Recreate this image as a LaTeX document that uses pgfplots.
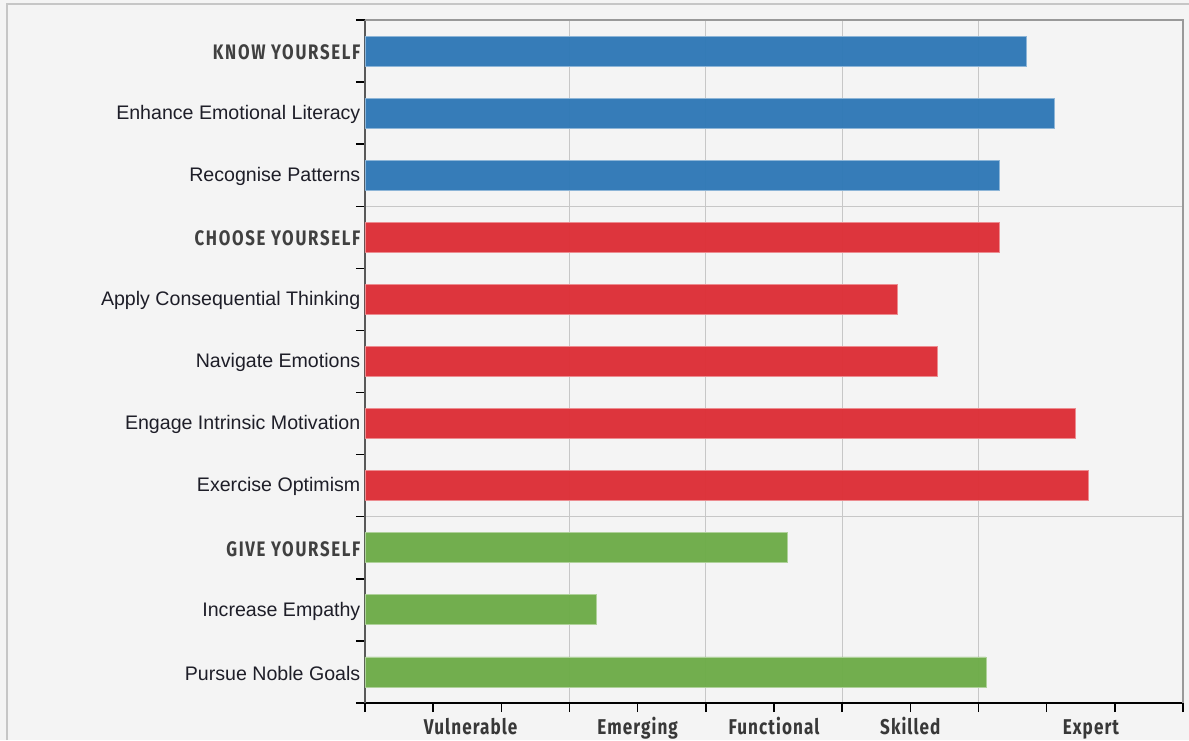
\documentclass[border=0pt]{standalone}
\usepackage{pgfplots}
\pgfplotsset{compat=1.18}
\usepackage{fontspec}
\setmainfont{Liberation Sans}
\newfontfamily\condfont[FakeStretch=0.8,LetterSpace=8]{Fira Sans}
\newfontfamily\condfontx[FakeStretch=0.8,LetterSpace=5]{Fira Sans}
\definecolor{bgc}{HTML}{F4F4F4}
\definecolor{blueC}{HTML}{2F78B6}
\definecolor{redC}{HTML}{DD2E36}
\definecolor{greenC}{HTML}{6DAC48}
\definecolor{txt}{HTML}{1E1E28}
\newcommand{\hd}[1]{{\condfont\bfseries\fontsize{10.5}{12}\selectfont\color{black!75}#1}}
\begin{document}
\begin{tikzpicture}
\useasboundingbox (-182.5pt,-18.5pt) rectangle (412pt,351.5pt);
\fill[bgc] (-182.5pt,-18.5pt) rectangle (412pt,351.5pt);
\draw[gray!45, line width=0.8pt] (-179pt,-18.5pt) -- (-179pt,349.5pt) -- (412pt,349.5pt);
\begin{axis}[at={(0,0)}, anchor=south west, scale only axis,
  width=409pt, height=341.5pt,
  xmin=0, xmax=12, ymin=-0.5, ymax=10.5,
  clip=false,
  xbar, bar width=0.483, bar shift=0pt,
  axis x line*=bottom, axis y line*=left,
  x axis line style={black, line width=0.9pt},
  y axis line style={black!65, line width=0.6pt},
  tick align=outside, major tick length=4.5pt,
  tick style={black, line width=0.7pt},
  xtick={0,...,12}, xticklabels={},
  minor xtick={3,5,7,9}, minor tick length=0pt, xminorgrids=true,
  minor grid style={black!22, line width=0.6pt},
  extra x ticks={1.55,4,6,8,10.65},
  extra x tick labels={Vulnerable,Emerging,Functional,Skilled,Expert},
  extra x tick style={major tick length=0pt, grid=none,
    tick label style={font=\condfontx\bfseries\fontsize{10.7}{12}\selectfont, text=black!78, anchor=base, yshift=-15.5pt}},
  ytick={-0.5,0.5,...,10.5}, yticklabels={},
  minor ytick={2.5,7.5}, yminorgrids=true,
  extra y ticks={0,1,2,3,4,5,6,7,8,9,10},
  extra y tick labels={Pursue Noble Goals,Increase Empathy,\hd{GIVE YOURSELF},Exercise Optimism,Engage Intrinsic Motivation,Navigate Emotions,Apply Consequential Thinking,\hd{CHOOSE YOURSELF},Recognise Patterns,Enhance Emotional Literacy,\hd{KNOW YOURSELF}},
  extra y tick style={major tick length=0pt, grid=none,
    tick label style={font=\fontsize{9.8}{11}\selectfont, text=txt, xshift=1.2pt, yshift=-0.6pt}},
]
\addplot[fill=blueC, draw=blueC!55!white, line width=0.4pt, fill opacity=0.96] coordinates {(9.71,10) (10.11,9) (9.30,8)};
\addplot[fill=redC, draw=redC!55!white, line width=0.4pt, fill opacity=0.96] coordinates {(9.30,7) (7.81,6) (8.40,5) (10.42,4) (10.61,3)};
\addplot[fill=greenC, draw=greenC!55!white, line width=0.4pt, fill opacity=0.96] coordinates {(6.20,2) (3.40,1) (9.11,0)};
\draw[black!40, line width=0.6pt] (rel axis cs:0,1) -- (rel axis cs:1,1) -- (rel axis cs:1,0);
\end{axis}
\end{tikzpicture}
\end{document}
